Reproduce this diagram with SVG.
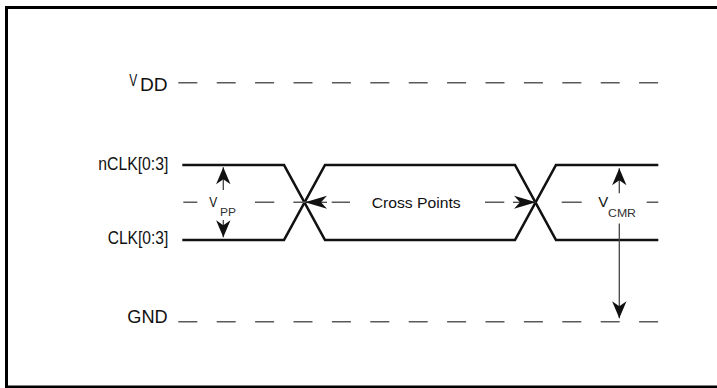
<svg xmlns="http://www.w3.org/2000/svg" width="717" height="388" viewBox="0 0 717 388">
<style>
text{font-family:"Liberation Sans",Arial,sans-serif;fill:#111}
.lbl{font-size:18.5px}
.sub{font-size:10.5px;fill:#333}
.big{font-size:15px}
.dash{stroke:#5a5a5a;stroke-width:1.6;fill:none}
.dl{stroke:#5a5a5a;stroke-width:1.6;fill:none;stroke-dasharray:19 19.4}
.wave{stroke:#111;stroke-width:2.6;fill:none;stroke-linejoin:miter}
.arr{stroke:#444;stroke-width:1.3;fill:none}
</style>
<defs>
<marker id="ah" viewBox="-19 -9 21 18" refX="0" refY="0" markerWidth="21" markerHeight="18" markerUnits="userSpaceOnUse" orient="auto">
<path d="M0,0 L-17,-7.2 L-12,0 L-17,7.2 Z" fill="#111"/>
</marker>
<marker id="ahc" viewBox="-24 -8 26 16" refX="0" refY="0" markerWidth="26" markerHeight="16" markerUnits="userSpaceOnUse" orient="auto">
<path d="M0,0 L-22,-6.5 L-16,0 L-22,6.5 Z" fill="#111"/>
</marker>
</defs>
<rect x="6.5" y="7.5" width="720" height="379.5" fill="#fff" stroke="#000" stroke-width="3"/>
<g id="vdd">
<text class="lbl" x="129.3" y="86"><tspan font-size="16.5" textLength="8" lengthAdjust="spacingAndGlyphs">V</tspan><tspan x="140" y="90.7" font-size="17.5" textLength="27.7" lengthAdjust="spacingAndGlyphs">DD</tspan></text>
<line class="dl" x1="178.3" y1="82.7" x2="658.3" y2="82.7"/>
</g>
<g id="gnd">
<text class="lbl" x="127.3" y="323.3" textLength="40.4" lengthAdjust="spacingAndGlyphs">GND</text>
<line class="dl" x1="178.3" y1="321.7" x2="658.3" y2="321.7"/>
</g>
<g id="nclk">
<text class="lbl" x="98.3" y="170" textLength="70" lengthAdjust="spacingAndGlyphs">nCLK[0:3]</text>
<polyline class="wave" points="182.3,165 284,165 325,240 515,240 556,165 658.3,165"/>
</g>
<g id="clk">
<text class="lbl" x="107.7" y="244.3" textLength="60.6" lengthAdjust="spacingAndGlyphs">CLK[0:3]</text>
<polyline class="wave" points="182.3,240 284,240 325,165 515,165 556,240 658.3,240"/>
</g>
<g id="midline">
<path class="dash" d="M183.3,202.3H197.3 M255,202.3H274.3 M293.3,202.3H312 M331.7,202.3H350 M485,202.3H504.3 M561.7,202.3H581.7 M646.7,202.3H658.3"/>
</g>
<g id="vpp">
<text class="big" x="209.3" y="207.3"><tspan textLength="8" lengthAdjust="spacingAndGlyphs">V</tspan><tspan class="sub" x="220" y="215.7" textLength="16" lengthAdjust="spacingAndGlyphs">PP</tspan></text>
</g>
<g id="crosspoints">
<text class="big" x="371.7" y="208.3" textLength="89" lengthAdjust="spacingAndGlyphs">Cross Points</text>
</g>
<g id="vcmr">
<text class="big" x="598.3" y="206.7"><tspan textLength="10" lengthAdjust="spacingAndGlyphs">V</tspan><tspan class="sub" x="608" y="216.7" font-size="10" textLength="28" lengthAdjust="spacingAndGlyphs">CMR</tspan></text>
</g>
<g id="connectors">
<line class="arr" x1="223.3" y1="190" x2="223.3" y2="167.3" marker-end="url(#ah)"/>
<line class="arr" x1="223.3" y1="220" x2="223.3" y2="237.3" marker-end="url(#ah)"/>
<line class="arr" x1="327" y1="202.3" x2="305" y2="202.3" marker-end="url(#ahc)"/>
<line class="arr" x1="513" y1="202.3" x2="536" y2="202.3" marker-end="url(#ahc)"/>
<line class="arr" x1="619.3" y1="193.3" x2="619.3" y2="168.3" marker-end="url(#ah)"/>
<line class="arr" x1="619.3" y1="223.5" x2="619.3" y2="318.3" marker-end="url(#ah)"/>
</g>
</svg>
